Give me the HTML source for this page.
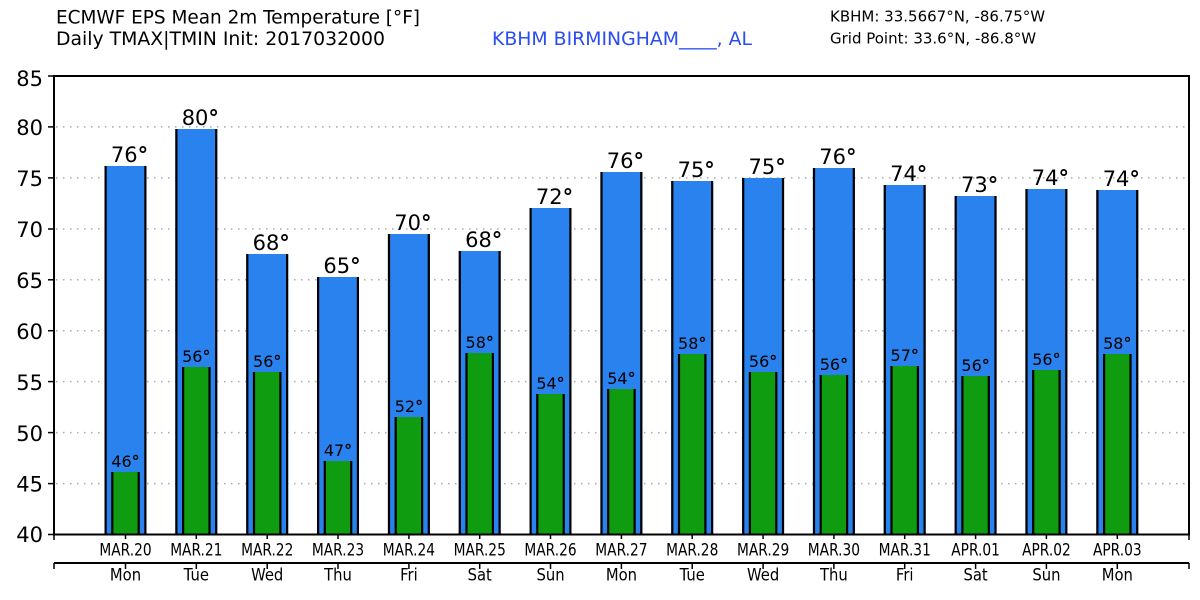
<!DOCTYPE html>
<html><head><meta charset="utf-8"><style>
html,body{margin:0;padding:0;background:#fff;}
svg{display:block;}
text{font-family:"DejaVu Sans","Liberation Sans",sans-serif;fill:#000;}
.b{font-size:21px;text-anchor:middle;}
.g{font-size:16px;text-anchor:middle;}
.d{font-size:17px;text-anchor:middle;}
.bl{fill:#2a82ee;}
.gr{fill:#0f9c10;}
tspan.o{font-weight:bold;}
</style></head><body>
<svg width="1200" height="600" viewBox="0 0 1200 600" xmlns="http://www.w3.org/2000/svg">
<rect width="1200" height="600" fill="#fff"/>
<text x="56" y="23.5" font-size="18.3" textLength="364" lengthAdjust="spacingAndGlyphs">ECMWF EPS Mean 2m Temperature [°F]</text>
<text x="56" y="45" font-size="18.3" textLength="329" lengthAdjust="spacingAndGlyphs">Daily TMAX|TMIN Init: 2017032000</text>
<text x="492" y="45" font-size="18.5" style="fill:#2a4cf0" textLength="260" lengthAdjust="spacingAndGlyphs">KBHM BIRMINGHAM____, AL</text>
<text x="830" y="21.7" font-size="15">KBHM: 33.5667°N, -86.75°W</text>
<text x="830" y="43.3" font-size="15">Grid Point: 33.6°N, -86.8°W</text>
<g stroke="#aaa" stroke-width="1.5" stroke-dasharray="1.5,5.5">
<line x1="56" y1="126.9" x2="1188" y2="126.9"/>
<line x1="56" y1="177.9" x2="1188" y2="177.9"/>
<line x1="56" y1="229" x2="1188" y2="229"/>
<line x1="56" y1="279.8" x2="1188" y2="279.8"/>
<line x1="56" y1="330.7" x2="1188" y2="330.7"/>
<line x1="56" y1="381.6" x2="1188" y2="381.6"/>
<line x1="56" y1="432.6" x2="1188" y2="432.6"/>
<line x1="56" y1="483.6" x2="1188" y2="483.6"/>
</g>

<g transform="translate(125.5,0)">
<rect class="bl" x="-21" y="166" width="42" height="368.5"/><rect x="-21" y="166" width="2.2" height="368.5"/><rect x="18.8" y="166" width="2.2" height="368.5"/>
<rect class="gr" x="-14.3" y="472" width="28.6" height="62.5"/><rect x="-14.3" y="472" width="2.2" height="62.5"/><rect x="12.1" y="472" width="2.2" height="62.5"/>
<text class="b" x="4" y="162">76<tspan class="o">°</tspan></text><text class="g" x="0" y="467">46<tspan class="o">°</tspan></text>
</g>
<g transform="translate(196.3,0)">
<rect class="bl" x="-21" y="129" width="42" height="405.5"/><rect x="-21" y="129" width="2.2" height="405.5"/><rect x="18.8" y="129" width="2.2" height="405.5"/>
<rect class="gr" x="-14.3" y="367" width="28.6" height="167.5"/><rect x="-14.3" y="367" width="2.2" height="167.5"/><rect x="12.1" y="367" width="2.2" height="167.5"/>
<text class="b" x="4" y="125">80<tspan class="o">°</tspan></text><text class="g" x="0" y="362">56<tspan class="o">°</tspan></text>
</g>
<g transform="translate(267.2,0)">
<rect class="bl" x="-21" y="254" width="42" height="280.5"/><rect x="-21" y="254" width="2.2" height="280.5"/><rect x="18.8" y="254" width="2.2" height="280.5"/>
<rect class="gr" x="-14.3" y="372" width="28.6" height="162.5"/><rect x="-14.3" y="372" width="2.2" height="162.5"/><rect x="12.1" y="372" width="2.2" height="162.5"/>
<text class="b" x="4" y="250">68<tspan class="o">°</tspan></text><text class="g" x="0" y="367">56<tspan class="o">°</tspan></text>
</g>
<g transform="translate(338,0)">
<rect class="bl" x="-21" y="277" width="42" height="257.5"/><rect x="-21" y="277" width="2.2" height="257.5"/><rect x="18.8" y="277" width="2.2" height="257.5"/>
<rect class="gr" x="-14.3" y="461" width="28.6" height="73.5"/><rect x="-14.3" y="461" width="2.2" height="73.5"/><rect x="12.1" y="461" width="2.2" height="73.5"/>
<text class="b" x="4" y="273">65<tspan class="o">°</tspan></text><text class="g" x="0" y="456">47<tspan class="o">°</tspan></text>
</g>
<g transform="translate(408.9,0)">
<rect class="bl" x="-21" y="234" width="42" height="300.5"/><rect x="-21" y="234" width="2.2" height="300.5"/><rect x="18.8" y="234" width="2.2" height="300.5"/>
<rect class="gr" x="-14.3" y="417" width="28.6" height="117.5"/><rect x="-14.3" y="417" width="2.2" height="117.5"/><rect x="12.1" y="417" width="2.2" height="117.5"/>
<text class="b" x="4" y="230">70<tspan class="o">°</tspan></text><text class="g" x="0" y="412">52<tspan class="o">°</tspan></text>
</g>
<g transform="translate(479.7,0)">
<rect class="bl" x="-21" y="251" width="42" height="283.5"/><rect x="-21" y="251" width="2.2" height="283.5"/><rect x="18.8" y="251" width="2.2" height="283.5"/>
<rect class="gr" x="-14.3" y="353" width="28.6" height="181.5"/><rect x="-14.3" y="353" width="2.2" height="181.5"/><rect x="12.1" y="353" width="2.2" height="181.5"/>
<text class="b" x="4" y="247">68<tspan class="o">°</tspan></text><text class="g" x="0" y="348">58<tspan class="o">°</tspan></text>
</g>
<g transform="translate(550.5,0)">
<rect class="bl" x="-21" y="208" width="42" height="326.5"/><rect x="-21" y="208" width="2.2" height="326.5"/><rect x="18.8" y="208" width="2.2" height="326.5"/>
<rect class="gr" x="-14.3" y="394" width="28.6" height="140.5"/><rect x="-14.3" y="394" width="2.2" height="140.5"/><rect x="12.1" y="394" width="2.2" height="140.5"/>
<text class="b" x="4" y="204">72<tspan class="o">°</tspan></text><text class="g" x="0" y="389">54<tspan class="o">°</tspan></text>
</g>
<g transform="translate(621.4,0)">
<rect class="bl" x="-21" y="172" width="42" height="362.5"/><rect x="-21" y="172" width="2.2" height="362.5"/><rect x="18.8" y="172" width="2.2" height="362.5"/>
<rect class="gr" x="-14.3" y="389" width="28.6" height="145.5"/><rect x="-14.3" y="389" width="2.2" height="145.5"/><rect x="12.1" y="389" width="2.2" height="145.5"/>
<text class="b" x="4" y="168">76<tspan class="o">°</tspan></text><text class="g" x="0" y="384">54<tspan class="o">°</tspan></text>
</g>
<g transform="translate(692.2,0)">
<rect class="bl" x="-21" y="181" width="42" height="353.5"/><rect x="-21" y="181" width="2.2" height="353.5"/><rect x="18.8" y="181" width="2.2" height="353.5"/>
<rect class="gr" x="-14.3" y="354" width="28.6" height="180.5"/><rect x="-14.3" y="354" width="2.2" height="180.5"/><rect x="12.1" y="354" width="2.2" height="180.5"/>
<text class="b" x="4" y="177">75<tspan class="o">°</tspan></text><text class="g" x="0" y="349">58<tspan class="o">°</tspan></text>
</g>
<g transform="translate(763.1,0)">
<rect class="bl" x="-21" y="178" width="42" height="356.5"/><rect x="-21" y="178" width="2.2" height="356.5"/><rect x="18.8" y="178" width="2.2" height="356.5"/>
<rect class="gr" x="-14.3" y="372" width="28.6" height="162.5"/><rect x="-14.3" y="372" width="2.2" height="162.5"/><rect x="12.1" y="372" width="2.2" height="162.5"/>
<text class="b" x="4" y="174">75<tspan class="o">°</tspan></text><text class="g" x="0" y="367">56<tspan class="o">°</tspan></text>
</g>
<g transform="translate(833.9,0)">
<rect class="bl" x="-21" y="168" width="42" height="366.5"/><rect x="-21" y="168" width="2.2" height="366.5"/><rect x="18.8" y="168" width="2.2" height="366.5"/>
<rect class="gr" x="-14.3" y="375" width="28.6" height="159.5"/><rect x="-14.3" y="375" width="2.2" height="159.5"/><rect x="12.1" y="375" width="2.2" height="159.5"/>
<text class="b" x="4" y="164">76<tspan class="o">°</tspan></text><text class="g" x="0" y="370">56<tspan class="o">°</tspan></text>
</g>
<g transform="translate(904.7,0)">
<rect class="bl" x="-21" y="185" width="42" height="349.5"/><rect x="-21" y="185" width="2.2" height="349.5"/><rect x="18.8" y="185" width="2.2" height="349.5"/>
<rect class="gr" x="-14.3" y="366" width="28.6" height="168.5"/><rect x="-14.3" y="366" width="2.2" height="168.5"/><rect x="12.1" y="366" width="2.2" height="168.5"/>
<text class="b" x="4" y="181">74<tspan class="o">°</tspan></text><text class="g" x="0" y="361">57<tspan class="o">°</tspan></text>
</g>
<g transform="translate(975.6,0)">
<rect class="bl" x="-21" y="196" width="42" height="338.5"/><rect x="-21" y="196" width="2.2" height="338.5"/><rect x="18.8" y="196" width="2.2" height="338.5"/>
<rect class="gr" x="-14.3" y="376" width="28.6" height="158.5"/><rect x="-14.3" y="376" width="2.2" height="158.5"/><rect x="12.1" y="376" width="2.2" height="158.5"/>
<text class="b" x="4" y="192">73<tspan class="o">°</tspan></text><text class="g" x="0" y="371">56<tspan class="o">°</tspan></text>
</g>
<g transform="translate(1046.4,0)">
<rect class="bl" x="-21" y="189" width="42" height="345.5"/><rect x="-21" y="189" width="2.2" height="345.5"/><rect x="18.8" y="189" width="2.2" height="345.5"/>
<rect class="gr" x="-14.3" y="370" width="28.6" height="164.5"/><rect x="-14.3" y="370" width="2.2" height="164.5"/><rect x="12.1" y="370" width="2.2" height="164.5"/>
<text class="b" x="4" y="185">74<tspan class="o">°</tspan></text><text class="g" x="0" y="365">56<tspan class="o">°</tspan></text>
</g>
<g transform="translate(1117.3,0)">
<rect class="bl" x="-21" y="190" width="42" height="344.5"/><rect x="-21" y="190" width="2.2" height="344.5"/><rect x="18.8" y="190" width="2.2" height="344.5"/>
<rect class="gr" x="-14.3" y="354" width="28.6" height="180.5"/><rect x="-14.3" y="354" width="2.2" height="180.5"/><rect x="12.1" y="354" width="2.2" height="180.5"/>
<text class="b" x="4" y="186">74<tspan class="o">°</tspan></text><text class="g" x="0" y="349">58<tspan class="o">°</tspan></text>
</g>

<rect x="54" y="76" width="1135" height="458.5" fill="none" stroke="#000" stroke-width="2"/>
<g stroke="#000" stroke-width="1.5">
<line x1="48" y1="76" x2="54" y2="76"/><line x1="48" y1="126.9" x2="54" y2="126.9"/>
<line x1="48" y1="177.9" x2="54" y2="177.9"/><line x1="48" y1="229" x2="54" y2="229"/>
<line x1="48" y1="279.8" x2="54" y2="279.8"/><line x1="48" y1="330.7" x2="54" y2="330.7"/>
<line x1="48" y1="381.6" x2="54" y2="381.6"/><line x1="48" y1="432.6" x2="54" y2="432.6"/>
<line x1="48" y1="483.6" x2="54" y2="483.6"/><line x1="48" y1="534.5" x2="54" y2="534.5"/>
<line x1="54" y1="534" x2="54" y2="540"/><line x1="1189" y1="534" x2="1189" y2="540"/>
<line x1="54" y1="563" x2="1189" y2="563" stroke-width="2"/>
<line x1="54" y1="563" x2="54" y2="569"/><line x1="1189" y1="563" x2="1189" y2="569"/>
<line x1="125.5" y1="534" x2="125.5" y2="539"/><line x1="125.5" y1="563" x2="125.5" y2="569"/>
<line x1="196.3" y1="534" x2="196.3" y2="539"/><line x1="196.3" y1="563" x2="196.3" y2="569"/>
<line x1="267.2" y1="534" x2="267.2" y2="539"/><line x1="267.2" y1="563" x2="267.2" y2="569"/>
<line x1="338" y1="534" x2="338" y2="539"/><line x1="338" y1="563" x2="338" y2="569"/>
<line x1="408.9" y1="534" x2="408.9" y2="539"/><line x1="408.9" y1="563" x2="408.9" y2="569"/>
<line x1="479.7" y1="534" x2="479.7" y2="539"/><line x1="479.7" y1="563" x2="479.7" y2="569"/>
<line x1="550.5" y1="534" x2="550.5" y2="539"/><line x1="550.5" y1="563" x2="550.5" y2="569"/>
<line x1="621.4" y1="534" x2="621.4" y2="539"/><line x1="621.4" y1="563" x2="621.4" y2="569"/>
<line x1="692.2" y1="534" x2="692.2" y2="539"/><line x1="692.2" y1="563" x2="692.2" y2="569"/>
<line x1="763.1" y1="534" x2="763.1" y2="539"/><line x1="763.1" y1="563" x2="763.1" y2="569"/>
<line x1="833.9" y1="534" x2="833.9" y2="539"/><line x1="833.9" y1="563" x2="833.9" y2="569"/>
<line x1="904.7" y1="534" x2="904.7" y2="539"/><line x1="904.7" y1="563" x2="904.7" y2="569"/>
<line x1="975.6" y1="534" x2="975.6" y2="539"/><line x1="975.6" y1="563" x2="975.6" y2="569"/>
<line x1="1046.4" y1="534" x2="1046.4" y2="539"/><line x1="1046.4" y1="563" x2="1046.4" y2="569"/>
<line x1="1117.3" y1="534" x2="1117.3" y2="539"/><line x1="1117.3" y1="563" x2="1117.3" y2="569"/>
</g>
<g font-size="21" text-anchor="end">
<text x="43" y="86">85</text><text x="43" y="135">80</text><text x="43" y="186">75</text>
<text x="43" y="237">70</text><text x="43" y="288">65</text><text x="43" y="339">60</text>
<text x="43" y="390">55</text><text x="43" y="441">50</text><text x="43" y="491.5">45</text>
<text x="43" y="542">40</text>
</g>
<g class="d">
<text class="d" transform="translate(125.5,555.5) scale(0.81,1)">MAR.20</text>
<text class="d" transform="translate(196.3,555.5) scale(0.81,1)">MAR.21</text>
<text class="d" transform="translate(267.2,555.5) scale(0.81,1)">MAR.22</text>
<text class="d" transform="translate(338,555.5) scale(0.81,1)">MAR.23</text>
<text class="d" transform="translate(408.9,555.5) scale(0.81,1)">MAR.24</text>
<text class="d" transform="translate(479.7,555.5) scale(0.81,1)">MAR.25</text>
<text class="d" transform="translate(550.5,555.5) scale(0.81,1)">MAR.26</text>
<text class="d" transform="translate(621.4,555.5) scale(0.81,1)">MAR.27</text>
<text class="d" transform="translate(692.2,555.5) scale(0.81,1)">MAR.28</text>
<text class="d" transform="translate(763.1,555.5) scale(0.81,1)">MAR.29</text>
<text class="d" transform="translate(833.9,555.5) scale(0.81,1)">MAR.30</text>
<text class="d" transform="translate(904.7,555.5) scale(0.81,1)">MAR.31</text>
<text class="d" transform="translate(975.6,555.5) scale(0.81,1)">APR.01</text>
<text class="d" transform="translate(1046.4,555.5) scale(0.81,1)">APR.02</text>
<text class="d" transform="translate(1117.3,555.5) scale(0.81,1)">APR.03</text>
<text class="d" transform="translate(125.5,580.5) scale(0.87,1)">Mon</text>
<text class="d" transform="translate(196.3,580.5) scale(0.87,1)">Tue</text>
<text class="d" transform="translate(267.2,580.5) scale(0.87,1)">Wed</text>
<text class="d" transform="translate(338,580.5) scale(0.87,1)">Thu</text>
<text class="d" transform="translate(408.9,580.5) scale(0.87,1)">Fri</text>
<text class="d" transform="translate(479.7,580.5) scale(0.87,1)">Sat</text>
<text class="d" transform="translate(550.5,580.5) scale(0.87,1)">Sun</text>
<text class="d" transform="translate(621.4,580.5) scale(0.87,1)">Mon</text>
<text class="d" transform="translate(692.2,580.5) scale(0.87,1)">Tue</text>
<text class="d" transform="translate(763.1,580.5) scale(0.87,1)">Wed</text>
<text class="d" transform="translate(833.9,580.5) scale(0.87,1)">Thu</text>
<text class="d" transform="translate(904.7,580.5) scale(0.87,1)">Fri</text>
<text class="d" transform="translate(975.6,580.5) scale(0.87,1)">Sat</text>
<text class="d" transform="translate(1046.4,580.5) scale(0.87,1)">Sun</text>
<text class="d" transform="translate(1117.3,580.5) scale(0.87,1)">Mon</text>
</g>
</svg>
</body></html>
